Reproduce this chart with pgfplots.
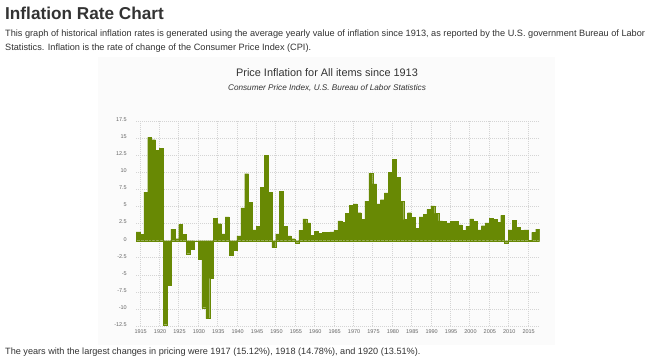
\documentclass[border=0pt]{standalone}
\usepackage{pgfplots}
\usepackage{pgfplotstable}
\pgfplotsset{compat=1.18}
\usepackage{fontspec}
\setmainfont{Liberation Sans}
\definecolor{barc}{RGB}{104,137,4}
\definecolor{txt}{RGB}{51,51,51}
\definecolor{gridc}{RGB}{212,212,212}
\definecolor{panel}{RGB}{251,251,251}
\definecolor{tickc}{RGB}{102,102,102}

\pgfplotstableread{
year rate
1914 1.3
1915 0.9
1916 7.1
1917 15.12
1918 14.78
1919 13.2
1920 13.51
1921 -12.3
1922 -6.5
1923 1.7
1924 0.3
1925 2.4
1926 0.9
1927 -1.9
1928 -1.2
1929 0
1930 -2.7
1931 -9.8
1932 -11.4
1933 -5.5
1934 3.3
1935 2.5
1936 1.0
1937 3.5
1938 -2.1
1939 -1.4
1940 0.7
1941 4.8
1942 9.8
1943 5.6
1944 1.6
1945 2.1
1946 7.8
1947 12.5
1948 7.1
1949 -1.0
1950 1.0
1951 7.2
1952 2.1
1953 0.7
1954 0.3
1955 -0.3
1956 1.5
1957 3.2
1958 2.6
1959 0.8
1960 1.4
1961 1.1
1962 1.2
1963 1.2
1964 1.3
1965 1.5
1966 2.9
1967 2.7
1968 4.0
1969 5.2
1970 5.4
1971 4.1
1972 3.1
1973 5.8
1974 9.9
1975 8.3
1976 5.4
1977 6.0
1978 7.0
1979 10.0
1980 11.9
1981 9.3
1982 5.8
1983 3.1
1984 4.1
1985 3.4
1986 1.8
1987 3.5
1988 3.9
1989 4.6
1990 5.1
1991 4.0
1992 2.9
1993 2.8
1994 2.6
1995 2.8
1996 2.8
1997 2.3
1998 1.5
1999 2.1
2000 3.2
2001 2.8
2002 1.6
2003 2.2
2004 2.6
2005 3.3
2006 3.1
2007 2.7
2008 3.7
2009 -0.3
2010 1.6
2011 3.0
2012 2.0
2013 1.5
2014 1.6
2015 0.1
2016 1.2
2017 1.7
2018 0
}\inflation

\begin{document}
\begin{tikzpicture}[x=1pt,y=1pt]
\fill[white] (0,0) rectangle (648,362);
\fill[panel] (98,17) rectangle (555,305);
\node[anchor=west, inner sep=0, text=txt, font=\fontsize{17.2}{20}\selectfont\bfseries] at (5,349) {Inflation Rate Chart};
\node[anchor=west, inner sep=0, text=txt, font=\fontsize{9.18}{11}\selectfont] at (5,327.5) {This graph of historical inflation rates is generated using the average yearly value of inflation since 1913, as reported by the U.S. government Bureau of Labor};
\node[anchor=west, inner sep=0, text=txt, font=\fontsize{9.18}{11}\selectfont] at (5,313.5) {Statistics. Inflation is the rate of change of the Consumer Price Index (CPI).};
\node[anchor=center, inner sep=0, text=txt, font=\fontsize{10.9}{12}\selectfont] at (327,289) {Price Inflation for All items since 1913};
\node[anchor=center, inner sep=0, text=txt, font=\fontsize{8.2}{9}\selectfont\itshape] at (327,274) {Consumer Price Index, U.S. Bureau of Labor Statistics};
\node[anchor=west, inner sep=0, text=txt, font=\fontsize{9.12}{11}\selectfont] at (5,10) {The years with the largest changes in pricing were 1917 (15.12\%), 1918 (14.78\%), and 1920 (13.51\%).};
\begin{axis}[
  at={(136pt,35.9pt)}, anchor=south west,
  scale only axis, width=403.5pt, height=205pt,
  xmin=1914, xmax=2018, ymin=-12.5, ymax=17.5,
  axis line style={draw=none},
  major tick length=0pt,
  xtick={1915,1920,1925,1930,1935,1940,1945,1950,1955,1960,1965,1970,1975,1980,1985,1990,1995,2000,2005,2010,2015},
  xticklabels={1915,1920,1925,1930,1935,1940,1945,1950,1955,1960,1965,1970,1975,1980,1985,1990,1995,2000,2005,2010,2015},
  ytick={-12.5,-10,-7.5,-5,-2.5,0,2.5,5,7.5,10,12.5,15,17.5},
  yticklabels={-12.5,-10,-7.5,-5,-2.5,0,2.5,5,7.5,10,12.5,15,17.5},
  xmajorgrids, ymajorgrids,
  grid style={gridc, line width=0.6pt, dash pattern=on 0.8pt off 1.2pt},
  xticklabel style={font=\fontsize{5.5}{6}\selectfont, text=tickc, inner sep=0pt, anchor=north, yshift=-3pt, xshift=0.8pt},
  yticklabel style={font=\fontsize{5.5}{6}\selectfont, text=tickc, inner sep=0pt, anchor=east, xshift=-9pt, yshift=1.5pt},
]
\addplot[ybar interval, fill=barc, draw=barc, line width=0.2pt] table[x=year, y=rate] {\inflation};
\end{axis}
\end{tikzpicture}
\end{document}
